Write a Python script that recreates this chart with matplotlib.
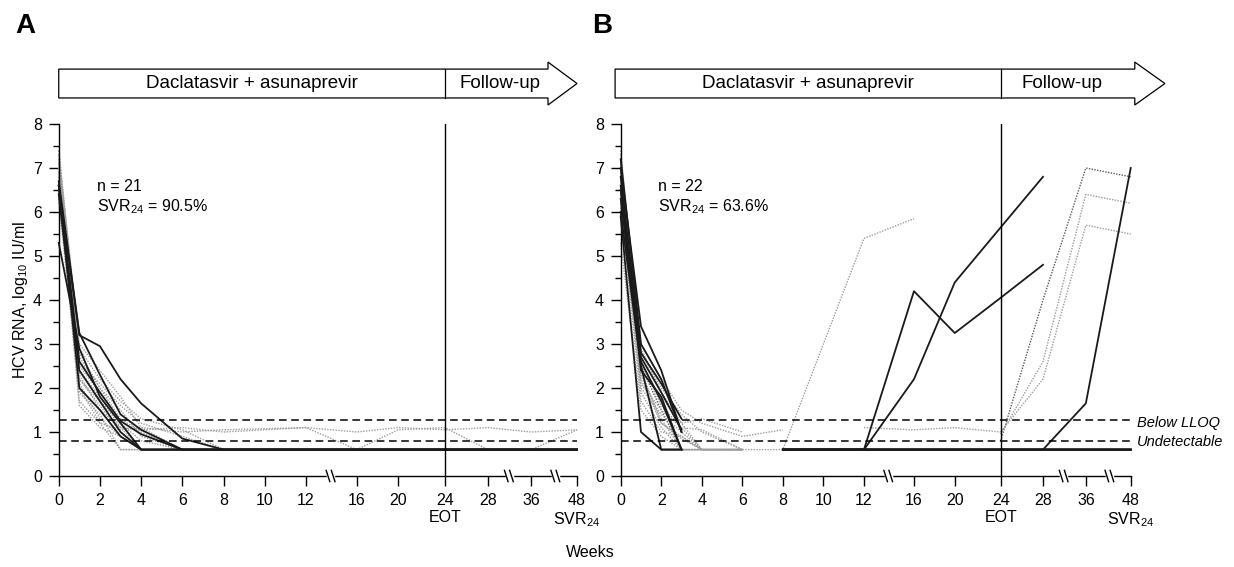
import numpy as np
import matplotlib.pyplot as plt
from matplotlib.patches import Polygon
from matplotlib.transforms import blended_transform_factory

plt.rcParams['font.family'] = ['Liberation Sans', 'DejaVu Sans']
plt.rcParams['mathtext.fontset'] = 'custom'
plt.rcParams['mathtext.rm'] = 'Liberation Sans'
plt.rcParams['mathtext.it'] = 'Liberation Sans:italic'

nan = np.nan
F = 0.6  # undetectable, drawn below LLOQ

# visit weeks
weeks = [0, 1, 2, 3, 4, 6, 8, 12, 16, 20, 24, 28, 36, 48]

# broken x axis: week -> fraction of axis
scale_weeks = [0, 12, 16, 20, 24, 28, 36, 48]
scale_pos = [0, 0.477, 0.575, 0.655, 0.745, 0.828, 0.912, 1.0]
xticks = [0, 2, 4, 6, 8, 10, 12, 16, 20, 24, 28, 36, 48]
xticklabels = ['0', '2', '4', '6', '8', '10', '12', '16', '20',
               '24\nEOT', '28', '36', '48\nSVR$_{24}$']
breaks = [14, 32, 42.5]
lloq = 1.28
undetectable = 0.8

# panel A, 21 patients (dark = black line, else grey dotted)
a_values = [
    [6.6, 3.2, 2.95, 2.2, 1.65, 0.85, F, F, F, F, F, F, F, F],
    [6.7, 3.25, 2.3, 1.4, 1.05, F, F, F, F, F, F, F, F, F],
    [6.4, 2.4, 1.7, 1.0, F, F, F, F, F, F, F, F, F, F],
    [6.6, 2.6, 1.9, 1.25, 0.95, F, F, F, F, F, F, F, F, F],
    [5.3, 2.9, 1.8, 1.2, F, F, F, F, F, F, F, F, F, F],
    [6.6, 2.0, 1.5, 0.9, F, F, F, F, F, F, F, F, F, F],
    [7.4, 2.8, 2.0, 1.5, 0.9, F, F, F, F, F, F, F, F, F],
    [7.3, 3.0, 2.4, 1.8, 1.1, F, F, F, F, F, F, F, F, F],
    [7.2, 2.5, 1.9, 1.2, F, F, F, F, F, F, F, F, F, F],
    [7.0, 2.2, 1.6, 1.0, F, F, F, F, F, F, F, F, F, F],
    [6.9, 1.9, 1.4, F, F, F, F, F, F, F, F, F, F, F],
    [6.8, 2.1, 1.3, 0.9, F, F, F, F, F, F, F, F, F, F],
    [7.1, 2.6, 2.1, 1.6, 1.2, 0.9, F, F, F, F, F, F, F, F],
    [6.5, 1.7, 1.2, F, F, F, F, F, F, F, F, F, F, F],
    [6.3, 2.3, 1.5, 1.1, F, F, F, F, F, F, F, F, F, F],
    [7.4, 2.9, 2.2, 1.7, 1.3, 1.05, F, F, F, F, F, F, F, F],
    [6.9, 1.6, 1.1, 0.9, F, F, F, F, F, F, F, F, F, F],
    [7.0, 2.4, 1.8, 1.1, 1.05, 1.1, 1.0, 1.1, F, F, F, F, F, F],
    [6.2, 2.0, 1.2, 1.05, 1.1, 1.0, 1.05, 1.1, 1.0, 1.1, 1.05, 1.1, 1.0, 1.05],
    [7.2, 2.7, 2.0, 1.3, 1.0, F, F, F, F, 1.05, 1.1, F, F, 1.05],
    [6.7, 2.2, 1.7, 1.2, 0.8, F, F, F, F, F, F, F, F, F],
]
a_dark = [True] * 6 + [False] * 15

# panel B, 22 patients
b_values = [
    [7.0, 3.4, 2.4, 1.0, nan, nan, F, F, F, F, F, F, F, F],
    [6.5, 2.7, 1.9, 1.05, nan, nan, F, F, F, F, F, F, F, F],
    [6.3, 2.6, 1.7, F, nan, nan, F, F, F, F, F, F, F, F],
    [6.0, 2.5, F, F, nan, nan, F, F, F, F, F, F, F, F],
    [5.9, 1.0, F, F, nan, nan, F, F, F, F, F, F, F, F],
    [6.8, 2.8, 2.1, 1.3, nan, nan, F, F, 4.2, 3.25, 4.05, 4.8, nan, nan],
    [7.2, 3.0, 2.2, 1.0, nan, nan, F, F, 2.2, 4.4, 5.65, 6.8, nan, nan],
    [6.6, 2.4, 1.8, F, nan, nan, F, F, F, F, F, F, 1.65, 7.0],
    [6.5, 2.2, 1.2, 0.9, F, F, F, 5.4, 5.85, nan, nan, nan, nan, nan],
    [6.9, 2.5, 1.5, F, F, F, nan, nan, nan, nan, 0.8, 4.0, 7.0, 6.8],
    [7.1, 2.9, 1.9, 1.2, F, F, nan, nan, nan, nan, 0.95, 2.6, 6.4, 6.2],
    [6.2, 2.0, 1.4, 1.0, F, F, nan, nan, nan, nan, 1.0, 2.2, 5.7, 5.5],
    [7.4, 2.6, 1.6, 1.1, F, F, nan, nan, nan, nan, nan, nan, nan, nan],
    [7.2, 2.3, 1.3, F, F, F, nan, nan, nan, nan, nan, nan, nan, nan],
    [6.9, 2.8, 2.0, 1.4, 1.0, F, nan, nan, nan, nan, nan, nan, nan, nan],
    [6.6, 1.9, 1.1, F, F, F, nan, nan, nan, nan, nan, nan, nan, nan],
    [7.0, 2.5, 1.8, 1.2, 1.3, 1.0, nan, nan, nan, nan, nan, nan, nan, nan],
    [6.1, 1.7, 1.0, 0.9, F, F, nan, nan, nan, nan, nan, nan, nan, nan],
    [5.3, 1.5, 0.9, F, F, F, nan, nan, nan, nan, nan, nan, nan, nan],
    [6.4, 2.1, 1.5, 1.1, 1.05, F, nan, 1.1, 1.05, 1.1, 1.0, nan, nan, nan],
    [6.8, 2.4, 1.2, 0.85, F, F, nan, nan, nan, nan, nan, nan, nan, nan],
    [7.3, 3.0, 2.2, 1.5, 1.2, 0.9, 1.05, nan, nan, nan, nan, nan, nan, nan],
]
b_dark = [True] * 8 + [False] * 14
b_mid = [9]  # darker grey dotted relapser

panels = [
    dict(values=a_values, dark=a_dark, mid=[], n='n = 21', svr='SVR$_{24}$ = 90.5%',
         letter='A', box_left=0.0, head=0.944, tip=1.0, follow=0.852),
    dict(values=b_values, dark=b_dark, mid=b_mid, n='n = 22', svr='SVR$_{24}$ = 63.6%',
         letter='B', box_left=-0.011, head=1.008, tip=1.067, follow=0.865),
]


def fwd(x):
    return np.interp(x, scale_weeks, scale_pos)


def inv(p):
    return np.interp(p, scale_pos, scale_weeks)


fig = plt.figure(figsize=(12.34, 5.67), dpi=100)
ax_a = fig.add_axes([0.0476, 0.1605, 0.420, 0.6208])
ax_b = fig.add_axes([0.503, 0.1605, 0.4133, 0.6208])

for ax, p in zip([ax_a, ax_b], panels):
    ax.set_xscale('function', functions=(fwd, inv))
    ax.set_xlim(0, 48)
    ax.set_ylim(0, 8)

    # grey patients first, dark on top
    for i, (row, dk) in enumerate(zip(p['values'], p['dark'])):
        if dk:
            continue
        col = '#5a5a5a' if i in p['mid'] else '#9c9c9c'
        ax.plot(weeks, row, color=col, lw=1.0, ls=(0, (1, 1)), zorder=2, clip_on=False)
    for row, dk in zip(p['values'], p['dark']):
        if dk:
            ax.plot(weeks, row, color='#1a1a1a', lw=1.3, zorder=3, clip_on=False)

    ax.axhline(lloq, color='black', lw=1.1, ls=(0, (5, 3)), zorder=4)
    ax.axhline(undetectable, color='black', lw=1.1, ls=(0, (5, 3)), zorder=4)
    ax.axvline(24, color='black', lw=1.0, zorder=4)

    for s in ['top', 'right']:
        ax.spines[s].set_visible(False)
    for s in ['left', 'bottom']:
        ax.spines[s].set_linewidth(1.0)

    ax.set_xticks(xticks)
    ax.set_xticklabels(xticklabels)
    ax.set_yticks(range(0, 9))
    ax.set_yticks(np.arange(0.5, 8, 1.0), minor=True)
    ax.xaxis.set_minor_locator(plt.NullLocator())
    ax.tick_params(axis='both', which='major', direction='out', length=7, width=1.0,
                   labelsize=11.5, pad=5)
    ax.tick_params(axis='y', which='minor', direction='out', length=4, width=1.0)

    # axis breaks
    for b in breaks:
        f = fwd(b)
        ax.plot([f - 0.006, f + 0.004], [0, 0], color='white', lw=2.5,
                transform=ax.transAxes, clip_on=False, zorder=6)
        for dx in (-0.010, 0.000):
            ax.plot([f + dx, f + dx + 0.007], [0.016, -0.016], color='black', lw=1.0,
                    transform=ax.transAxes, clip_on=False, zorder=7)

    # treatment arrow header
    yc, hb, hh = 1.115, 0.041, 0.061
    pts = [(p['box_left'], yc - hb), (p['head'], yc - hb), (p['head'], yc - hh),
           (p['tip'], yc), (p['head'], yc + hh), (p['head'], yc + hb),
           (p['box_left'], yc + hb)]
    ax.add_patch(Polygon(pts, closed=True, transform=ax.transAxes, fc='white',
                         ec='black', lw=0.9, clip_on=False))
    blend = blended_transform_factory(ax.transData, ax.transAxes)
    ax.plot([24, 24], [yc - hb, yc + hb], color='black', lw=0.9, transform=blend,
            clip_on=False)
    ax.text((p['box_left'] + fwd(24)) / 2, yc, 'Daclatasvir + asunaprevir',
            transform=ax.transAxes, ha='center', va='center', fontsize=13.5)
    ax.text(p['follow'], yc, 'Follow-up', transform=ax.transAxes,
            ha='center', va='center', fontsize=13.5)

    ax.text(0.073, 0.822, p['n'], transform=ax.transAxes, ha='left', va='center',
            fontsize=11.5)
    ax.text(0.073, 0.765, p['svr'], transform=ax.transAxes, ha='left', va='center',
            fontsize=11.5)

ax_b.text(1.012, 1.2, 'Below LLOQ', transform=blended_transform_factory(ax_b.transAxes, ax_b.transData),
          ha='left', va='center', fontsize=10.5, style='italic')
ax_b.text(1.012, 0.78, 'Undetectable', transform=blended_transform_factory(ax_b.transAxes, ax_b.transData),
          ha='left', va='center', fontsize=10.5, style='italic')

fig.text(15 / 1234, 1 - 33 / 567, 'A', fontsize=20, weight='bold', va='baseline')
fig.text(592 / 1234, 1 - 33 / 567, 'B', fontsize=20, weight='bold', va='baseline')
fig.text(0.0165, 0.471, 'HCV RNA, log$_{10}$ IU/ml', rotation=90, ha='center',
         va='center', fontsize=11.5)
fig.text(0.478, 0.0247, 'Weeks', ha='center', va='center', fontsize=11.5)

fig.savefig('out.png', dpi=100)
